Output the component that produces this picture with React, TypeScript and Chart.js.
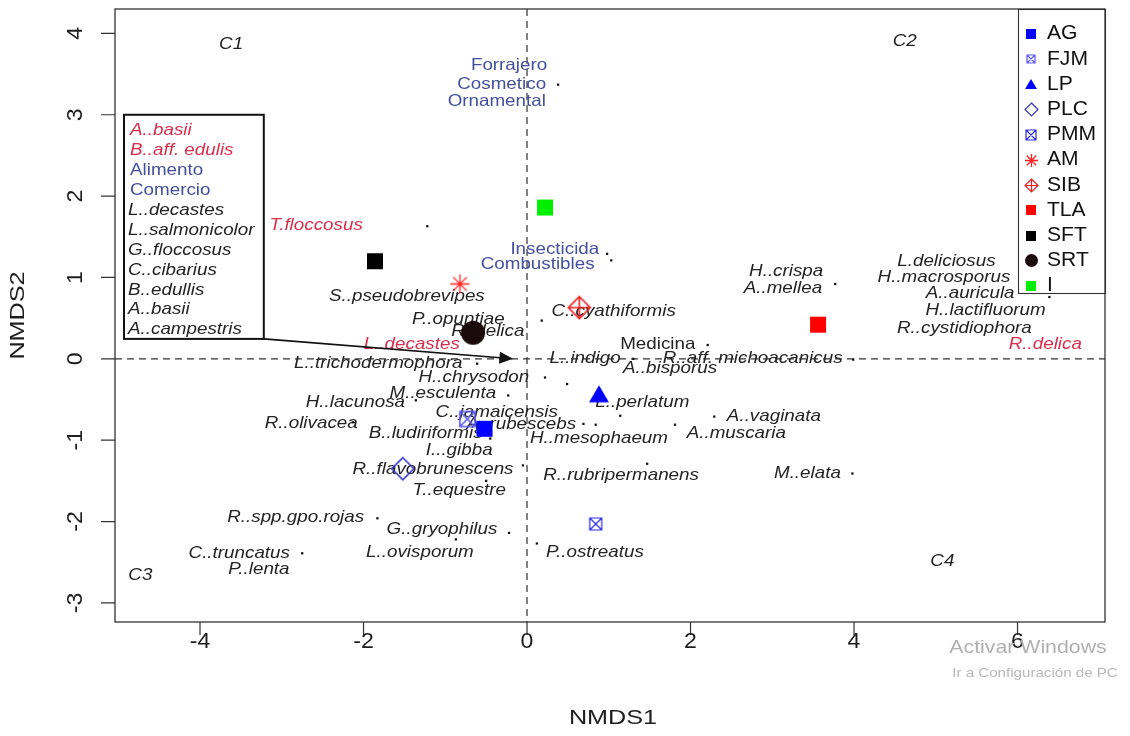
import React, { useEffect, useRef } from 'react';
import { Chart, registerables } from 'chart.js';

Chart.register(...registerables);

// ---------- axes ----------
const xTicks = [-4, -2, 0, 2, 4, 6];
const yTicks = [-3, -2, -1, 0, 1, 2, 3, 4];
const xRange = [-5.04, 7.07];
const yRange = [-3.235, 4.3];
const xTitle = 'NMDS1';
const yTitle = 'NMDS2';

// ---------- site / group scores ----------
const groupNames = ['AG', 'FJM', 'LP', 'PLC', 'PMM', 'AM', 'SIB', 'TLA', 'SFT', 'SRT', 'I'];
const groupX = [-0.52, -0.73, 0.88, -1.52, 0.84, -0.82, 0.64, 3.56, -1.86, -0.66, 0.22];
const groupY = [-0.86, -0.74, -0.43, -1.35, -2.03, 0.92, 0.63, 0.42, 1.2, 0.32, 1.86];

// ---------- species points (small dots) ----------
const dotX = [0.38, -1.22, 0.98, 1.03, 3.77, 6.39, 0.18, 2.21, 3.99, -0.61, 0.22, 0.49, -0.23, -1.36, -2.13, -0.45, 0.69, 0.84, 1.14, 2.29, 1.81, 3.98, 1.47, -0.05, -0.5, -1.83, -0.22, 0.12, -0.87, -2.75, 1.3];
const dotY = [3.37, 1.63, 1.29, 1.21, 0.92, 0.76, 0.47, 0.17, -0.01, -0.06, -0.23, -0.31, -0.45, -0.51, -0.78, -0.98, -0.8, -0.81, -0.7, -0.71, -0.81, -1.41, -1.29, -1.31, -1.5, -1.96, -2.14, -2.27, -2.22, -2.39, 0.0];

// ---------- species labels (black, italic) ----------
const speciesNames = ['H..crispa', 'A..mellea', 'L.deliciosus', 'H..macrosporus', 'A..auricula', 'H..lactifluorum', 'R..cystidiophora', 'S..pseudobrevipes', 'C..cyathiformis', 'P..opuntiae', 'R..delica', 'L..trichodermophora', 'L..indigo', 'R..aff. michoacanicus', 'H..chrysodon', 'A..bisporus', 'M..esculenta', 'H..lacunosa', 'L..perlatum', 'C..jamaicensis', 'A..rubescebs', 'A..vaginata', 'R..olivacea', 'B..ludiriformis', 'H..mesophaeum', 'A..muscaria', 'I...gibba', 'R..flavobrunescens', 'R..rubripermanens', 'M..elata', 'T..equestre', 'R..spp.gpo.rojas', 'G..gryophilus', 'C..truncatus', 'L..ovisporum', 'P..ostreatus', 'P..lenta'];
const speciesX = [3.17, 3.13, 5.13, 5.1, 5.42, 5.61, 5.35, -1.47, 1.06, -0.84, -0.48, -1.82, 0.71, 2.76, -0.65, 1.75, -1.03, -2.1, 1.41, -0.37, -0.07, 3.02, -2.64, -1.24, 0.88, 2.56, -0.83, -1.15, 1.15, 3.43, -0.83, -2.83, -1.04, -3.52, -1.31, 0.83, -3.28];
const speciesY = [1.07, 0.87, 1.2, 1.0, 0.8, 0.59, 0.37, 0.77, 0.58, 0.49, 0.34, -0.06, 0.01, 0.0, -0.23, -0.12, -0.43, -0.54, -0.54, -0.66, -0.81, -0.71, -0.8, -0.92, -0.98, -0.92, -1.13, -1.36, -1.43, -1.41, -1.62, -1.95, -2.1, -2.39, -2.38, -2.38, -2.59];

// ---------- red species labels ----------
const redNames = ['T.floccosus', 'L..decastes', 'R..delica'];
const redX = [-2.58, -1.41, 6.34];
const redY = [1.64, 0.18, 0.18];

// ---------- use labels ----------
const useNames = ['Forrajero', 'Cosmetico', 'Ornamental', 'Insecticida', 'Combustibles'];
const useX = [-0.22, -0.31, -0.37, 0.34, 0.13];
const useY = [3.6, 3.37, 3.16, 1.35, 1.16];
const plainNames = ['Medicina'];
const plainX = [1.6];
const plainY = [0.18];

// ---------- cluster labels ----------
const clusterNames = ['C1', 'C2', 'C3', 'C4'];
const clusterX = [-3.62, 4.62, -4.73, 5.08];
const clusterY = [3.86, 3.9, -2.66, -2.49];

// ---------- inset box (top-left corner / arrow target) ----------
const boxLines = ['A..basii', 'B..aff. edulis', 'Alimento', 'Comercio', 'L..decastes', 'L..salmonicolor', 'G..floccosus', 'C..cibarius', 'B..edullis', 'A..basii', 'A..campestris'];
const boxKinds = ['red', 'red', 'use', 'use', 'sp', 'sp', 'sp', 'sp', 'sp', 'sp', 'sp'];
const boxCorner = [-4.93, 3.0];
const boxCornerEnd = [-3.22, 0.245];
const arrowEnd = [-0.17, 0.0];

// ---------- styles ----------
const FONT = '"Liberation Sans", Arial, Helvetica, sans-serif';
const SX = 1.14;
const BLACK = '#232323';
const BLUE = '#44509e';
const RED = '#d62e4c';

const markerStyle: Record<string, { shape: string; color: string; size: number; lsize: number }> = {
  AG: { shape: 'square', color: '#0000ff', size: 16, lsize: 10 },
  FJM: { shape: 'boxX', color: '#5a5af0', size: 15, lsize: 8 },
  LP: { shape: 'triangle', color: '#0000ff', size: 20, lsize: 12 },
  PLC: { shape: 'diamond', color: '#3535bb', size: 22, lsize: 13 },
  PMM: { shape: 'boxX', color: '#2a2ae0', size: 12, lsize: 10 },
  AM: { shape: 'asterisk', color: '#ff2020', size: 19, lsize: 13 },
  SIB: { shape: 'diamondPlus', color: '#e82020', size: 22, lsize: 13 },
  TLA: { shape: 'square', color: '#ff0000', size: 16, lsize: 10 },
  SFT: { shape: 'square', color: '#000000', size: 16, lsize: 10 },
  SRT: { shape: 'circle', color: '#1a0a0a', size: 24, lsize: 13 },
  I: { shape: 'square', color: '#00ee00', size: 16, lsize: 10 },
};

function makeMarker(shape: string, color: string, s: number): HTMLCanvasElement {
  const pad = 3;
  const c = document.createElement('canvas');
  const n = Math.ceil(s + pad * 2);
  c.width = n;
  c.height = n;
  const g = c.getContext('2d')!;
  const m = n / 2;
  const h = s / 2;
  g.fillStyle = color;
  g.strokeStyle = color;
  g.lineWidth = s > 14 ? 1.6 : 1.2;
  g.beginPath();
  switch (shape) {
    case 'square':
      g.fillRect(m - h, m - h, s, s);
      break;
    case 'circle':
      g.arc(m, m, h, 0, Math.PI * 2);
      g.fill();
      break;
    case 'triangle':
      g.moveTo(m, m - h * 0.85);
      g.lineTo(m + h, m + h * 0.85);
      g.lineTo(m - h, m + h * 0.85);
      g.closePath();
      g.fill();
      break;
    case 'diamond':
      g.moveTo(m, m - h);
      g.lineTo(m + h, m);
      g.lineTo(m, m + h);
      g.lineTo(m - h, m);
      g.closePath();
      g.stroke();
      break;
    case 'diamondPlus':
      g.moveTo(m, m - h);
      g.lineTo(m + h, m);
      g.lineTo(m, m + h);
      g.lineTo(m - h, m);
      g.closePath();
      g.moveTo(m, m - h);
      g.lineTo(m, m + h);
      g.moveTo(m - h, m);
      g.lineTo(m + h, m);
      g.stroke();
      break;
    case 'boxX':
      g.rect(m - h, m - h, s, s);
      g.moveTo(m - h, m - h);
      g.lineTo(m + h, m + h);
      g.moveTo(m + h, m - h);
      g.lineTo(m - h, m + h);
      g.stroke();
      break;
    case 'asterisk': {
      const d = h * 0.72;
      g.lineWidth = 1.3;
      g.moveTo(m - h, m);
      g.lineTo(m + h, m);
      g.moveTo(m, m - h);
      g.lineTo(m, m + h);
      g.moveTo(m - d, m - d);
      g.lineTo(m + d, m + d);
      g.moveTo(m + d, m - d);
      g.lineTo(m - d, m + d);
      g.stroke();
      break;
    }
  }
  return c;
}

function txt(
  ctx: CanvasRenderingContext2D,
  s: string,
  x: number,
  y: number,
  size: number,
  color: string,
  italic = false,
  align: CanvasTextAlign = 'center',
  rot = 0,
  sx = SX
) {
  ctx.save();
  ctx.translate(x, y);
  if (rot) ctx.rotate(rot);
  ctx.scale(sx, 1);
  ctx.font = `${italic ? 'italic ' : ''}${size}px ${FONT}`;
  ctx.fillStyle = color;
  ctx.textAlign = align;
  ctx.textBaseline = 'middle';
  ctx.fillText(s, 0, 0);
  ctx.restore();
}

export default function App() {
  const ref = useRef<HTMLCanvasElement>(null);

  useEffect(() => {
    if (!ref.current) return;
    const plotMarkers: Record<string, HTMLCanvasElement> = {};
    const legendMarkers: Record<string, HTMLCanvasElement> = {};
    groupNames.forEach((g) => {
      const st = markerStyle[g];
      plotMarkers[g] = makeMarker(st.shape, st.color, st.size);
      legendMarkers[g] = makeMarker(st.shape, st.color, st.lsize);
    });

    const decor = {
      id: 'nmdsDecor',
      beforeDatasetsDraw(chart: any) {
        const { ctx, chartArea: a } = chart;
        const xs = chart.scales.x;
        const ys = chart.scales.y;
        const px = (v: number) => xs.getPixelForValue(v);
        const py = (v: number) => ys.getPixelForValue(v);
        ctx.save();
        ctx.beginPath();
        ctx.rect(a.left, a.top, a.right - a.left, a.bottom - a.top);
        ctx.clip();
        // zero lines
        ctx.setLineDash([7, 5]);
        ctx.strokeStyle = '#333';
        ctx.lineWidth = 1.2;
        ctx.beginPath();
        ctx.moveTo(a.left, py(0));
        ctx.lineTo(a.right, py(0));
        ctx.moveTo(px(0), a.top);
        ctx.lineTo(px(0), a.bottom);
        ctx.stroke();
        ctx.setLineDash([]);

        // labels
        const SZ = 16.5;
        clusterNames.forEach((n, i) => txt(ctx, n, px(clusterX[i]), py(clusterY[i]), SZ, BLACK, true));
        useNames.forEach((n, i) => txt(ctx, n, px(useX[i]), py(useY[i]), SZ, BLUE, false));
        plainNames.forEach((n, i) => txt(ctx, n, px(plainX[i]), py(plainY[i]), SZ, BLACK, false));
        speciesNames.forEach((n, i) => txt(ctx, n, px(speciesX[i]), py(speciesY[i]), SZ, BLACK, true));
        redNames.forEach((n, i) => txt(ctx, n, px(redX[i]), py(redY[i]), SZ, RED, true));

        // inset box
        const bx0 = px(boxCorner[0]);
        const by0 = py(boxCorner[1]);
        const bx1 = px(boxCornerEnd[0]);
        const by1 = py(boxCornerEnd[1]);
        ctx.fillStyle = '#fff';
        ctx.fillRect(bx0, by0, bx1 - bx0, by1 - by0);
        ctx.strokeStyle = '#111';
        ctx.lineWidth = 2;
        ctx.strokeRect(bx0, by0, bx1 - bx0, by1 - by0);
        boxLines.forEach((n, i) => {
          const k = boxKinds[i];
          const col = k === 'red' ? RED : k === 'use' ? BLUE : BLACK;
          const off = k === 'sp' ? 4 : 6;
          txt(ctx, n, bx0 + off, by0 + 16 + i * 19.9, SZ, col, k !== 'use', 'left');
        });

        // arrow
        const ax = px(arrowEnd[0]);
        const ay = py(arrowEnd[1]);
        const ang = Math.atan2(ay - by1, ax - bx1);
        ctx.strokeStyle = '#111';
        ctx.fillStyle = '#111';
        ctx.lineWidth = 1.6;
        ctx.beginPath();
        ctx.moveTo(bx1, by1);
        ctx.lineTo(ax - 10 * Math.cos(ang), ay - 10 * Math.sin(ang));
        ctx.stroke();
        const L = 15;
        const wA = 0.42;
        ctx.beginPath();
        ctx.moveTo(ax, ay);
        ctx.lineTo(ax - L * Math.cos(ang - wA), ay - L * Math.sin(ang - wA));
        ctx.lineTo(ax - L * Math.cos(ang + wA), ay - L * Math.sin(ang + wA));
        ctx.closePath();
        ctx.fill();
        ctx.restore();
      },
      afterDraw(chart: any) {
        const { ctx, chartArea: a } = chart;
        const xs = chart.scales.x;
        const ys = chart.scales.y;
        ctx.save();
        // legend
        const lx0 = 1018;
        const ly0 = a.top;
        const lx1 = a.right;
        const ly1 = 293;
        ctx.fillStyle = '#fff';
        ctx.fillRect(lx0, ly0, lx1 - lx0, ly1 - ly0);
        ctx.strokeStyle = '#333';
        ctx.lineWidth = 1.1;
        ctx.strokeRect(lx0 + 0.5, ly0 + 0.5, lx1 - lx0, ly1 - ly0);
        groupNames.forEach((g, i) => {
          const yy = ly0 + 25 + i * 25.2;
          const m = legendMarkers[g];
          ctx.drawImage(m, Math.round(1031 - m.width / 2), Math.round(yy - m.height / 2));
          txt(ctx, g, 1047, yy, 19.5, '#111', false, 'left', 0, 1.08);
        });

        // plot frame
        ctx.strokeStyle = '#333';
        ctx.lineWidth = 1.3;
        ctx.strokeRect(a.left, a.top, a.right - a.left, a.bottom - a.top);

        // ticks
        ctx.lineWidth = 1.2;
        ctx.beginPath();
        xs.ticks.forEach((t: any) => {
          const p = xs.getPixelForValue(t.value);
          ctx.moveTo(p, a.bottom);
          ctx.lineTo(p, a.bottom + 13);
        });
        ys.ticks.forEach((t: any) => {
          const p = ys.getPixelForValue(t.value);
          ctx.moveTo(a.left - 14, p);
          ctx.lineTo(a.left, p);
        });
        ctx.stroke();
        xs.ticks.forEach((t: any) => {
          txt(ctx, String(t.value), xs.getPixelForValue(t.value), a.bottom + 20, 22, '#1e1e1e', false, 'center', 0, 1.05);
        });
        ys.ticks.forEach((t: any) => {
          txt(ctx, String(t.value), a.left - 39, ys.getPixelForValue(t.value), 22, '#1e1e1e', false, 'center', -Math.PI / 2, 1.05);
        });
        // axis titles
        txt(ctx, xTitle, (a.left + a.right) / 2 + 3, 718, 21, '#1e1e1e', false, 'center', 0, 1.2);
        txt(ctx, yTitle, 18, (a.top + a.bottom) / 2, 21, '#1e1e1e', false, 'center', -Math.PI / 2, 1.2);

        // watermark
        txt(ctx, 'Activar Windows', 1028, 648, 19, '#b0b0b0', false, 'center', 0, 1.12);
        txt(ctx, 'Ir a Configuración de PC', 1035, 673, 13.5, '#b8b8b8', false, 'center', 0, 1.12);
        ctx.restore();
      },
    };

    const datasets: any[] = groupNames.map((g, i) => ({
      label: g,
      data: [{ x: groupX[i], y: groupY[i] }],
      pointStyle: plotMarkers[g],
      pointRadius: 8,
      showLine: false,
    }));
    datasets.push({
      label: 'species',
      data: dotX.map((v, i) => ({ x: v, y: dotY[i] })),
      pointStyle: 'rect',
      pointRadius: 1.6,
      backgroundColor: '#111',
      borderColor: '#111',
      borderWidth: 0,
      showLine: false,
    });

    const chart = new Chart(ref.current, {
      type: 'scatter',
      data: { datasets },
      options: {
        animation: false,
        responsive: true,
        maintainAspectRatio: false,
        devicePixelRatio: 1,
        layout: { padding: { top: 7, right: 25, left: 0, bottom: 0 } },
        plugins: { legend: { display: false }, tooltip: { enabled: false } },
        events: [],
        scales: {
          x: {
            type: 'linear',
            min: xRange[0],
            max: xRange[1],
            grid: { display: false },
            border: { display: false },
            ticks: { display: false },
            afterBuildTicks: (s: any) => {
              s.ticks = xTicks.map((v) => ({ value: v }));
            },
            afterFit: (s: any) => {
              s.height = 114;
            },
          },
          y: {
            type: 'linear',
            min: yRange[0],
            max: yRange[1],
            grid: { display: false },
            border: { display: false },
            ticks: { display: false },
            afterBuildTicks: (s: any) => {
              s.ticks = yTicks.map((v) => ({ value: v }));
            },
            afterFit: (s: any) => {
              s.width = 115;
            },
          },
        },
      },
      plugins: [decor],
    });
    return () => chart.destroy();
  }, []);

  return (
    <div style={{ position: 'fixed', left: 0, top: 0, width: 1130, height: 736, background: '#fff' }}>
      <canvas ref={ref} />
    </div>
  );
}
